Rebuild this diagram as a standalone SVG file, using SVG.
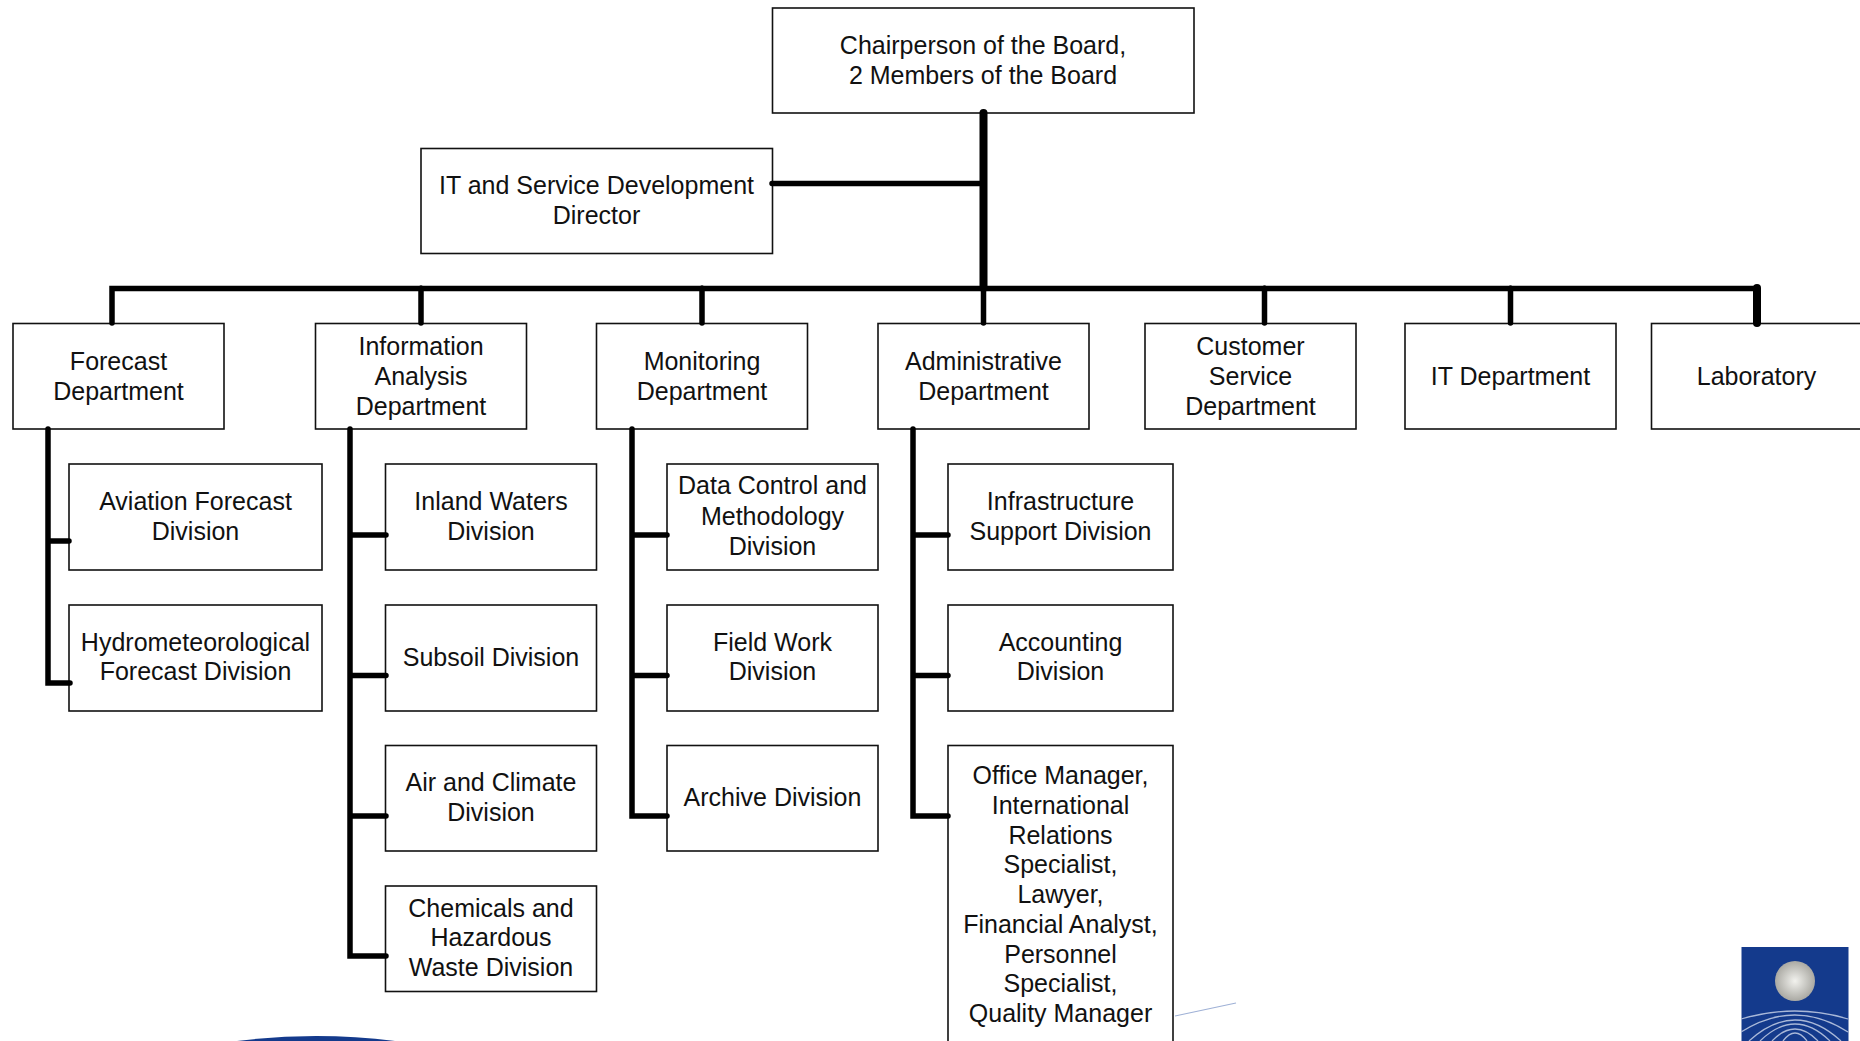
<svg xmlns="http://www.w3.org/2000/svg" width="1860" height="1041" viewBox="0 0 1860 1041">
<defs>
<radialGradient id="ball" cx="0.5" cy="0.5" r="0.5"><stop offset="0" stop-color="#f2f2ee"/><stop offset="1" stop-color="#aaa9a3"/></radialGradient>
</defs>
<style>
.b{fill:#fff;stroke:#111;stroke-width:1.6}
text{font-family:"Liberation Sans",Arial,sans-serif;font-size:25px;fill:#111;text-anchor:middle}
.c{fill:none;stroke:#000;stroke-width:5.5;stroke-linecap:round;stroke-linejoin:miter}
.t{fill:none;stroke:#000;stroke-width:8;stroke-linecap:round}
.w{fill:none;stroke:#a9b8d8;stroke-width:1.3}
</style>
<g id="chair"><rect class="b" x="772.500" y="8" width="421.500" height="105"/><text x="983" y="54">Chairperson of the Board,</text><text x="983" y="84">2 Members of the Board</text></g>
<g id="it-director"><rect class="b" x="421" y="148.500" width="351.500" height="105"/><text x="596.500" y="194">IT and Service Development</text><text x="596.500" y="224">Director</text></g>
<g id="forecast"><rect class="b" x="13" y="323.500" width="211" height="105.500"/><text x="118.500" y="370">Forecast</text><text x="118.500" y="400">Department</text></g>
<g id="info"><rect class="b" x="315.500" y="323.500" width="211" height="105.500"/><text x="421" y="355">Information</text><text x="421" y="385">Analysis</text><text x="421" y="415">Department</text></g>
<g id="monitoring"><rect class="b" x="596.500" y="323.500" width="211" height="105.500"/><text x="702" y="370">Monitoring</text><text x="702" y="400">Department</text></g>
<g id="admin"><rect class="b" x="878" y="323.500" width="211" height="105.500"/><text x="983.500" y="370">Administrative</text><text x="983.500" y="400">Department</text></g>
<g id="customer"><rect class="b" x="1145" y="323.500" width="211" height="105.500"/><text x="1250.500" y="355">Customer</text><text x="1250.500" y="385">Service</text><text x="1250.500" y="415">Department</text></g>
<g id="it-dept"><rect class="b" x="1405" y="323.500" width="211" height="105.500"/><text x="1510.500" y="385">IT Department</text></g>
<g id="lab"><rect class="b" x="1651.500" y="323.500" width="230" height="105.500"/><text x="1756.500" y="385">Laboratory</text></g>
<g id="aviation"><rect class="b" x="69" y="464" width="253" height="106"/><text x="195.500" y="510">Aviation Forecast</text><text x="195.500" y="540">Division</text></g>
<g id="hydro"><rect class="b" x="69" y="605" width="253" height="106"/><text x="195.500" y="651">Hydrometeorological</text><text x="195.500" y="680">Forecast Division</text></g>
<g id="inland"><rect class="b" x="385.500" y="464" width="211" height="106"/><text x="491" y="510">Inland Waters</text><text x="491" y="540">Division</text></g>
<g id="subsoil"><rect class="b" x="385.500" y="605" width="211" height="106"/><text x="491" y="666">Subsoil Division</text></g>
<g id="air"><rect class="b" x="385.500" y="745.500" width="211" height="105.500"/><text x="491" y="791">Air and Climate</text><text x="491" y="821">Division</text></g>
<g id="chemicals"><rect class="b" x="385.500" y="886" width="211" height="105.500"/><text x="491" y="917">Chemicals and</text><text x="491" y="946">Hazardous</text><text x="491" y="976">Waste Division</text></g>
<g id="data"><rect class="b" x="667" y="464" width="211" height="106"/><text x="772.500" y="494">Data Control and</text><text x="772.500" y="525">Methodology</text><text x="772.500" y="555">Division</text></g>
<g id="field"><rect class="b" x="667" y="605" width="211" height="106"/><text x="772.500" y="651">Field Work</text><text x="772.500" y="680">Division</text></g>
<g id="archive"><rect class="b" x="667" y="745.500" width="211" height="105.500"/><text x="772.500" y="806">Archive Division</text></g>
<g id="infra"><rect class="b" x="948" y="464" width="225" height="106"/><text x="1060.500" y="510">Infrastructure</text><text x="1060.500" y="540">Support Division</text></g>
<g id="accounting"><rect class="b" x="948" y="605" width="225" height="106"/><text x="1060.500" y="651">Accounting</text><text x="1060.500" y="680">Division</text></g>
<g id="office"><rect class="b" x="948" y="745.500" width="225" height="320"/><text x="1060.500" y="784">Office Manager,</text><text x="1060.500" y="814">International</text><text x="1060.500" y="844">Relations</text><text x="1060.500" y="873">Specialist,</text><text x="1060.500" y="903">Lawyer,</text><text x="1060.500" y="933">Financial Analyst,</text><text x="1060.500" y="963">Personnel</text><text x="1060.500" y="992">Specialist,</text><text x="1060.500" y="1022">Quality Manager</text></g>
<g id="connectors">
<path class="t" d="M983.500 113V288"/>
<path class="c" d="M983.500 288V323M772 183.500H983M112 323V288.500H1757M421 288V323M702 288V323M1264.500 288V323M1510.500 288V323"/>
<path class="t" d="M1757 288V323"/>
<path class="c" d="M48 429V683H70M48 541H69"/>
<path class="c" d="M350 429V956H386M350 535H386M350 675.500H386M350 816H386"/>
<path class="c" d="M632 429V816H667M632 535H667M632 675.500H667"/>
<path class="c" d="M913 429V816H948M913 535H948M913 675.500H948"/>
</g>
<g id="decor">
<path d="M237 1041Q316 1031 395 1041Z" fill="#143a8c"/>
<path d="M1175 1016L1236 1003" stroke="#9fb1d6" stroke-width="1.2" fill="none"/>
<rect x="1741.500" y="947" width="107" height="94" fill="#143a8c"/>
<circle cx="1795" cy="981" r="20" fill="url(#ball)"/>
<path class="w" d="M1741 1019Q1795 1003 1848 1019M1741 1032Q1795 998 1848 1032M1749 1041Q1795 999 1841 1041M1760 1041Q1795 1007 1830 1041M1772 1041Q1795 1017 1818 1041M1783 1041Q1795 1025 1807 1041"/>
</g>
</svg>
